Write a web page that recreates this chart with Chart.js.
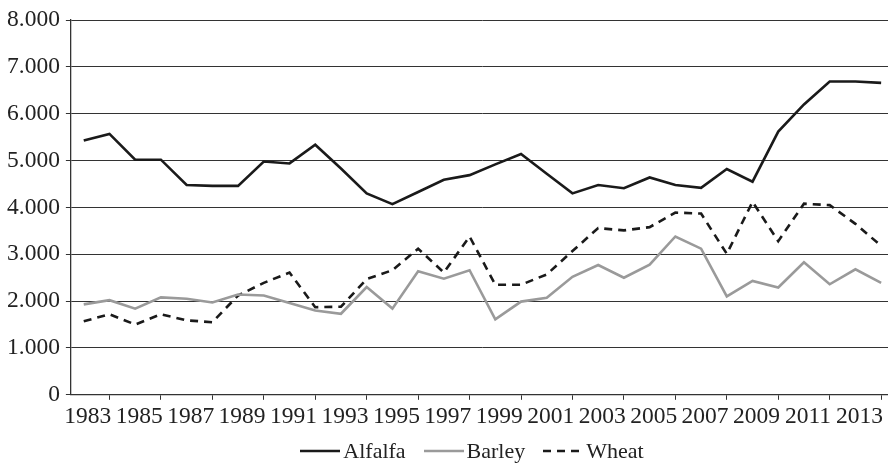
<!DOCTYPE html>
<html>
<head>
<meta charset="utf-8">
<script src="https://cdn.jsdelivr.net/npm/chart.js@4.4.1/dist/chart.umd.min.js"></script>
<style>
  html, body { margin: 0; padding: 0; background: #fff; overflow: hidden; }
  #wrap { width: 888px; height: 463px; overflow: hidden; position: relative; }
  #box { width: 944px; height: 463px; position: absolute; left: 0; top: 0; }
  #legend { position: absolute; left: 0; width: 944px; top: 438px; height: 26px;
            display: flex; justify-content: center; align-items: center;
            font-family: 'Liberation Serif'; font-size: 22px; color: #222; }
  .item { display: flex; align-items: center; margin: 0 9px; }
  .item svg { margin-right: 3px; }
</style>
</head>
<body>
<div id="wrap"><div id="box"><canvas id="c"></canvas></div><div id="legend"></div></div>
<script>
const years = ['1983','1984','1985','1986','1987','1988','1989','1990','1991','1992','1993','1994','1995','1996','1997','1998','1999','2000','2001','2002','2003','2004','2005','2006','2007','2008','2009','2010','2011','2012','2013','2014'];
const alfalfa = [5430,5570,5020,5020,4480,4460,4460,4980,4940,5340,4830,4300,4070,4330,4590,4690,4920,5140,4720,4300,4480,4410,4640,4480,4420,4820,4550,5620,6200,6690,6690,6660];
const barley = [1930,2020,1840,2080,2050,1970,2140,2120,1960,1800,1730,2300,1840,2640,2480,2660,1610,1990,2070,2520,2770,2500,2780,3380,3120,2100,2430,2290,2830,2360,2680,2390];
const wheat = [1570,1720,1500,1720,1590,1550,2120,2390,2610,1870,1880,2470,2660,3120,2610,3380,2350,2350,2570,3070,3560,3510,3580,3890,3870,3010,4120,3280,4080,4050,3650,3180];
const seriesNames = ['Alfalfa','Barley','Wheat'];

const FONT = 'Liberation Serif';
Chart.defaults.font.family = FONT;
Chart.defaults.font.size = 23.5;
Chart.defaults.color = '#222';

const chart = new Chart(document.getElementById('c'), {
  type: 'line',
  data: {
    labels: years,
    datasets: [
      { label: seriesNames[0], data: alfalfa, borderColor: '#1a1a1a', backgroundColor: '#1a1a1a', borderWidth: 2.6, pointRadius: 0, tension: 0, fill: false },
      { label: seriesNames[1], data: barley, borderColor: '#9a9a9a', backgroundColor: '#9a9a9a', borderWidth: 2.6, pointRadius: 0, tension: 0, fill: false },
      { label: seriesNames[2], data: wheat, borderColor: '#1a1a1a', backgroundColor: '#1a1a1a', borderWidth: 2.6, borderDash: [8, 6], pointRadius: 0, tension: 0, fill: false }
    ]
  },
  options: {
    responsive: true,
    maintainAspectRatio: false,
    animation: false,
    layout: { padding: { left: 1, right: 50, top: 7, bottom: 29 } },
    plugins: {
      tooltip: { enabled: false },
      legend: { display: false }
    },
    scales: {
      x: {
        offset: true,
        grid: { display: true, drawOnChartArea: false, drawTicks: true, tickLength: 5, offset: true, color: '#333', lineWidth: 1 },
        border: { display: true, color: '#333', width: 1.3 },
        ticks: {
          autoSkip: false,
          maxRotation: 0,
          padding: 3,
          labelOffset: 4,
          callback: function(v, i) { return i % 2 === 0 ? years[i] : null; }
        }
      },
      y: {
        min: 0,
        max: 8000,
        grid: { color: '#333', lineWidth: 1, tickLength: 5 },
        border: { display: true, color: '#333', width: 1.3 },
        ticks: {
          stepSize: 1000,
          padding: 6,
          callback: function(v) { return v === 0 ? '0' : (v / 1000).toFixed(3); }
        }
      }
    }
  }
});

// HTML legend built from the chart's datasets
const legend = document.getElementById('legend');
chart.data.datasets.forEach(function(ds) {
  const item = document.createElement('div');
  item.className = 'item';
  const dash = ds.borderDash ? ds.borderDash.join(',') : 'none';
  item.innerHTML = '<svg width="40" height="6"><line x1="0" y1="3" x2="40" y2="3" stroke="' + ds.borderColor +
    '" stroke-width="2.6" stroke-dasharray="' + dash + '"/></svg><span>' + ds.label + '</span>';
  legend.appendChild(item);
});
</script>
</body>
</html>
